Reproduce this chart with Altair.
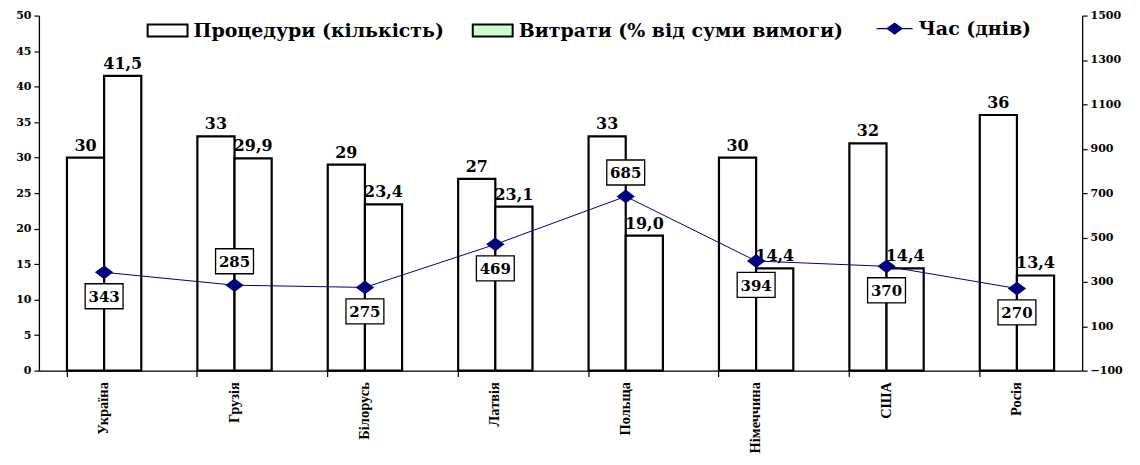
import altair as alt
import pandas as pd

countries = ["Україна", "Грузія", "Білорусь", "Латвія", "Польща", "Німеччина", "США", "Росія"]
procedures = [30, 33, 29, 27, 33, 30, 32, 36]
costs = [41.5, 29.9, 23.4, 23.1, 19.0, 14.4, 14.4, 13.4]
days = [343, 285, 275, 469, 685, 394, 370, 270]
label_above = ["Грузія", "Польща"]

s_proc = "Процедури (кількість)"
s_cost = "Витрати (% від суми вимоги)"
s_time = "Час (днів)"
series_names = [s_proc, s_cost]

rows = []
for c, p, k in zip(countries, procedures, costs):
    rows.append({"country": c, "series": s_proc, "value": p, "label": str(p)})
    rows.append({"country": c, "series": s_cost, "value": k, "label": f"{k:.1f}".replace(".", ",")})
bars_df = pd.DataFrame(rows)
time_df = pd.DataFrame({"country": countries, "days": days,
                        "above": [c in label_above for c in countries]})

SERIF = "DejaVu Serif"
NAVY = "#000080"

xscale = alt.Scale(domain=countries, paddingInner=0.43, paddingOuter=0.215)
xaxis = alt.Axis(title=None, bandPosition=0, labelAngle=270, labelFont="Liberation Serif",
                 labelFontSize=14.5, labelFontWeight="bold", labelPadding=5, tickSize=6,
                 labelColor="black", domainColor="black", tickColor="black")
x = alt.X("country:N", scale=xscale, axis=xaxis, sort=countries)
xoff = alt.XOffset("series:N", scale=alt.Scale(domain=series_names, paddingInner=0, paddingOuter=0))

left_axis = alt.Axis(title=None, orient="left", values=list(range(0, 51, 5)), tickSize=5,
                     labelFont=SERIF, labelFontSize=11, labelFontWeight="bold", labelPadding=3)
yl = alt.Y("value:Q", scale=alt.Scale(domain=[0, 50], nice=False), axis=left_axis)

right_axis = alt.Axis(title=None, orient="right", values=list(range(-100, 1501, 200)), tickSize=5,
                      format="d",
                      labelFont=SERIF, labelFontSize=11, labelFontWeight="bold", labelPadding=3)
yr = alt.Y("days:Q", scale=alt.Scale(domain=[-100, 1500], nice=False), axis=right_axis)

base_b = alt.Chart(bars_df)
bars = base_b.mark_bar(fill="white", stroke="black", strokeWidth=2.2).encode(x=x, xOffset=xoff, y=yl)
bar_text = base_b.mark_text(dy=-12, font=SERIF, fontWeight="bold", fontSize=16, color="black").encode(
    x=x, xOffset=xoff, y=yl, text="label:N")

bar_legend = base_b.transform_filter("false").mark_square().encode(
    fill=alt.Fill("series:N", scale=alt.Scale(domain=series_names, range=["white", "#ccffcc"]),
                  legend=alt.Legend(title=None, orient="none", legendX=108, legendY=-6,
                                    direction="horizontal", columns=2,
                                    symbolType="M-1,-0.3L1,-0.3L1,0.3L-1,0.3Z", symbolSize=1600,
                                    symbolStrokeColor="black", symbolStrokeWidth=2, symbolOpacity=1,
                                    labelFont=SERIF, labelFontSize=19, labelFontWeight="bold",
                                    labelColor="black", labelLimit=700, labelOffset=5,
                                    columnPadding=24)))

left = alt.layer(bars, bar_text, bar_legend)

base_t = alt.Chart(time_df)
line = base_t.mark_line(color=NAVY, strokeWidth=1).encode(x=x, y=yr)
box_shape = "M-1,-0.66L1,-0.66L1,0.66L-1,0.66Z"
box_up = base_t.transform_filter("datum.above").mark_point(
    shape=box_shape, size=1444, filled=True, fill="white", stroke="black", strokeWidth=1.3,
    opacity=1, yOffset=-24).encode(x=x, y=yr)
box_dn = base_t.transform_filter("!datum.above").mark_point(
    shape=box_shape, size=1444, filled=True, fill="white", stroke="black", strokeWidth=1.3,
    opacity=1, yOffset=24).encode(x=x, y=yr)
txt_up = base_t.transform_filter("datum.above").mark_text(
    font=SERIF, fontWeight="bold", fontSize=15, color="black", yOffset=-23).encode(x=x, y=yr, text="days:Q")
txt_dn = base_t.transform_filter("!datum.above").mark_text(
    font=SERIF, fontWeight="bold", fontSize=15, color="black", yOffset=25).encode(x=x, y=yr, text="days:Q")
diamonds = base_t.transform_calculate(name=f"'{s_time}'").mark_point(
    shape="M-1,0L0,-0.75L1,0L0,0.75Z", size=340, filled=True, opacity=1).encode(
    x=x, y=yr,
    color=alt.Color("name:N", scale=alt.Scale(domain=[s_time], range=[NAVY]),
                    legend=alt.Legend(title=None, orient="none", legendX=839, legendY=-6,
                                      symbolType="M-1,0L1,0M-0.42,0L0,-0.3L0.42,0L0,0.3Z",
                                      symbolSize=1296, symbolStrokeColor=NAVY, symbolStrokeWidth=1.2,
                                      symbolFillColor=NAVY, symbolOpacity=1,
                                      labelFont=SERIF, labelFontSize=19, labelFontWeight="bold",
                                      labelColor="black", labelLimit=400, labelOffset=5)))

right = alt.layer(line, box_up, box_dn, txt_up, txt_dn, diamonds)

chart = alt.layer(left, right).resolve_scale(y="independent", fill="independent", color="independent").properties(
    width=1046, height=356, autosize="none",
    padding={"left": 31, "top": 7, "right": 50, "bottom": 88},
).configure_view(stroke=None).configure_axis(grid=False, domainColor="black", tickColor="black",
                                             labelColor="black", domainWidth=1.3, tickWidth=1.2)

chart.save("out.html", embed_options={"renderer": "svg", "actions": False})
